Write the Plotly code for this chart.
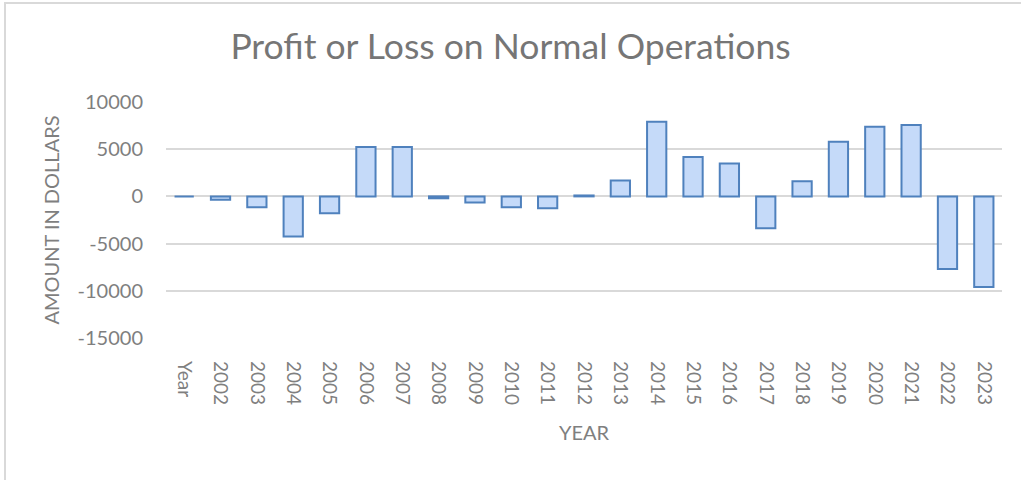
import plotly.graph_objects as go

categories = ["Year", "2002", "2003", "2004", "2005", "2006", "2007", "2008", "2009",
              "2010", "2011", "2012", "2013", "2014", "2015", "2016", "2017", "2018",
              "2019", "2020", "2021", "2022", "2023"]
profit_loss = [0, -350, -1150, -4250, -1780, 5240, 5240, -200, -650,
               -1150, -1250, 100, 1680, 7920, 4180, 3480, -3370, 1610,
               5800, 7390, 7570, -7680, -9590]
y_ticks = [10000, 5000, 0, -5000, -10000, -15000]

TXT = "#7f7f7f"
FONT = "Lato"

fig = go.Figure()
fig.add_trace(go.Bar(
    x=categories, y=profit_loss,
    marker=dict(color="#c5daf9", line=dict(color="#4f81bd", width=2)),
    showlegend=False,
))

fig.update_layout(
    width=1021, height=480,
    margin=dict(l=166, r=19, t=102, b=142),
    paper_bgcolor="white", plot_bgcolor="white",
    bargap=0.47,
    font=dict(family=FONT, color=TXT, size=20),
    title=dict(text="Profit or Loss on Normal Operations", x=0.5, xanchor="center",
               xref="container", y=1 - 47 / 480, yref="container", yanchor="middle",
               font=dict(family=FONT, size=35.5, color="#767676")),
    xaxis=dict(
        type="category", tickangle=90, showgrid=False, zeroline=False,
        showline=False, ticks="", ticklabelstandoff=22,
        tickfont=dict(size=19, color=TXT),
        title=dict(text="YEAR", standoff=21, font=dict(size=20, color=TXT)),
    ),
    yaxis=dict(
        range=[-15000, 10000], tickvals=y_ticks, ticktext=[str(v) for v in y_ticks],
        showgrid=True, gridcolor="#d9d9d9", gridwidth=1.5,
        zeroline=True, zerolinecolor="#d9d9d9", zerolinewidth=1.5,
        showline=False, ticks="", ticklabelstandoff=22,
        tickfont=dict(size=20, color=TXT),
        title=dict(text="AMOUNT IN DOLLARS", standoff=12, font=dict(size=20, color=TXT)),
    ),
)

# chart frame (left and top edges visible in the reference)
fig.add_shape(type="rect", xref="paper", yref="paper",
              x0=(5 - 166) / 836, x1=1.2, y0=-0.8, y1=1 + (102 - 3) / 236,
              line=dict(color="#d9d9d9", width=2), fillcolor="rgba(0,0,0,0)", layer="below")

fig.write_html("out.html", config={"displayModeBar": False},
               post_script="document.body.style.margin='0';")
